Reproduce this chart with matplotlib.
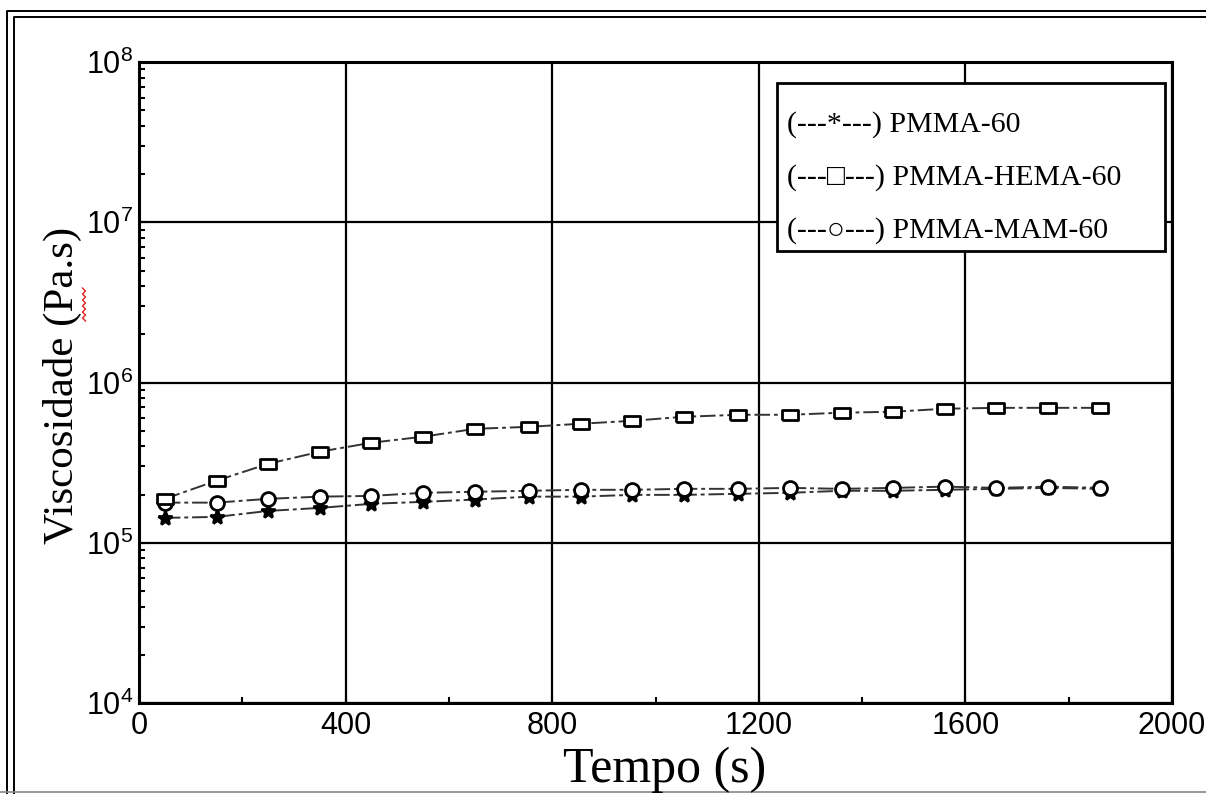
import math
import matplotlib
matplotlib.use("Agg")
import matplotlib.pyplot as plt
from matplotlib.lines import Line2D
from matplotlib.patches import Rectangle
from matplotlib.ticker import FixedLocator, LogLocator, FuncFormatter, NullFormatter

# tempo (s) and viscosity (Pa.s) for the three samples
tempo = [50, 150, 250, 350, 450, 550, 650, 755, 855, 955,
         1055, 1160, 1260, 1360, 1460, 1560, 1660, 1760, 1860]
visc_pmma = [1.43e5, 1.45e5, 1.58e5, 1.65e5, 1.75e5, 1.80e5, 1.86e5, 1.94e5, 1.94e5, 1.99e5,
             1.99e5, 2.02e5, 2.05e5, 2.11e5, 2.11e5, 2.14e5, 2.17e5, 2.20e5, 2.17e5]
visc_hema = [1.88e5, 2.44e5, 3.11e5, 3.70e5, 4.21e5, 4.59e5, 5.14e5, 5.29e5, 5.53e5, 5.77e5,
             6.11e5, 6.29e5, 6.29e5, 6.48e5, 6.57e5, 6.86e5, 6.95e5, 6.95e5, 6.95e5]
visc_mam = [1.78e5, 1.78e5, 1.88e5, 1.94e5, 1.96e5, 2.05e5, 2.08e5, 2.11e5, 2.14e5, 2.14e5,
            2.17e5, 2.17e5, 2.20e5, 2.17e5, 2.20e5, 2.24e5, 2.20e5, 2.24e5, 2.20e5]

x_ticks = [0, 400, 800, 1200, 1600, 2000]
legend_lines = ["(---*---) PMMA-60", "(---\u25a1---) PMMA-HEMA-60", "(---\u25cb---) PMMA-MAM-60"]

tick_font = ["Liberation Sans", "DejaVu Sans"]
serif_font = ["Liberation Serif", "DejaVu Sans"]

fig = plt.figure(figsize=(12.06, 7.94), dpi=100)
ax = fig.add_axes([0.1153, 0.1146, 0.8566, 0.8073])

line_kw = dict(color="#333333", lw=1.4, ls=(0, (8, 2, 2, 2)), mec="black", mew=2.0, zorder=3)
rect_marker = [(-1.5, -0.9), (1.5, -0.9), (1.5, 0.9), (-1.5, 0.9), (-1.5, -0.9)]
ax.plot(tempo, visc_pmma, marker="*", ms=10, mfc="black", **line_kw)
ax.plot(tempo, visc_mam, marker="o", ms=10, mfc="white", **line_kw)
ax.plot(tempo, visc_hema, marker=rect_marker, ms=12, mfc="white", **line_kw)

ax.set_yscale("log")
ax.set_xlim(0, 2000)
ax.set_ylim(1e4, 1e8)
ax.xaxis.set_major_locator(FixedLocator(x_ticks))
ax.xaxis.set_minor_locator(FixedLocator([200, 600, 1000, 1400, 1800]))
ax.yaxis.set_major_locator(LogLocator(base=10, numticks=10))
ax.yaxis.set_minor_locator(LogLocator(base=10, subs=range(2, 10), numticks=20))
ax.yaxis.set_minor_formatter(NullFormatter())
ax.yaxis.set_major_formatter(FuncFormatter(lambda v, p: r"$\mathregular{10^{%d}}$" % round(math.log10(v))))

ax.grid(True, which="major", color="black", lw=1.6)
for s in ax.spines.values():
    s.set_linewidth(2.2)
ax.tick_params(which="both", direction="in", color="black")
ax.tick_params(which="major", length=5, width=1.5)
ax.tick_params(which="minor", length=4, width=1.5)
ax.tick_params(axis="y", pad=4)
ax.tick_params(axis="x", pad=6)
for lab in ax.get_xticklabels() + ax.get_yticklabels():
    lab.set_family(tick_font)
    lab.set_fontsize(22)

ylab = fig.text(0.052, 0.515, "Viscosidade (Pa.s)", rotation=90, family=serif_font,
                fontsize=31, ha="center", va="center")
fig.text(0.551, 0.03, "Tempo (s)", family=serif_font, fontsize=36, ha="center", va="center")

# legend box drawn as plain text lines over the grid
ax.add_patch(Rectangle((0.6176, 0.705), 0.3756, 0.262, transform=ax.transAxes,
                       facecolor="white", edgecolor="black", lw=2.0, zorder=5))
for i, txt in enumerate(legend_lines):
    ax.text(0.627, 0.902 - i * 0.0825, txt, transform=ax.transAxes, family=serif_font,
            fontsize=21.5, va="center", ha="left", zorder=6)

# page frame around the figure
W, H = 1206, 794
def frame(xs, ys, **kw):
    fig.add_artist(Line2D([x / W for x in xs], [1 - y / H for y in ys], transform=fig.transFigure, **kw))
frame([7, 7, W], [H, 11, 11], color="black", lw=1.4)
frame([14, 14, W], [H, 17, 17], color="black", lw=1.4)
frame([0, W], [792, 792], color="#888888", lw=1.2)

# red spell-check squiggle under "Pa"
sq_y = [288 + 3 * k for k in range(12)]
sq_x = [84 + (1.5 if k % 2 else -1.5) for k in range(12)]
frame(sq_x, sq_y, color="#e02020", lw=1.0)

fig.savefig("out.png", dpi=100)
